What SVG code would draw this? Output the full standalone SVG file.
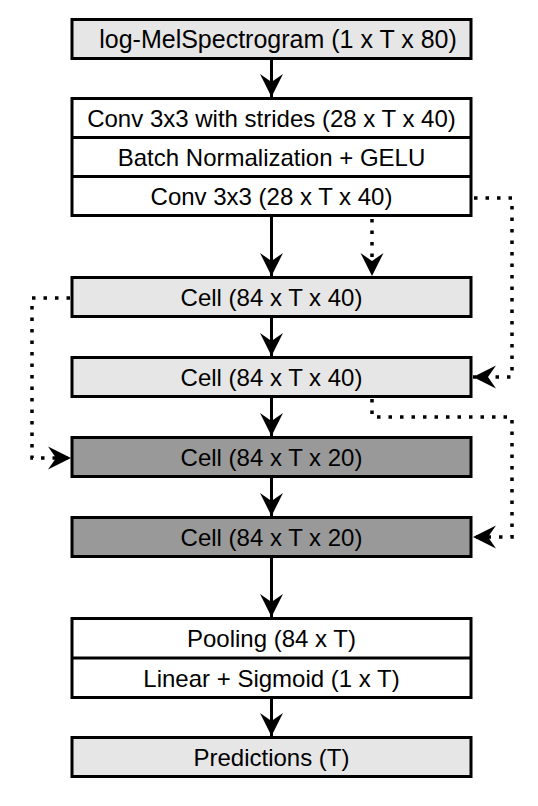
<svg xmlns="http://www.w3.org/2000/svg" width="538" height="806" viewBox="0 0 538 806">
<style>
  .box{stroke:#000;stroke-width:3}
  .w{fill:#fff}
  .lg{fill:#e6e6e6}
  .dg{fill:#999999}
  .div{stroke:#000;stroke-width:3}
  text{font-family:"Liberation Sans",Arial,Helvetica,sans-serif;font-size:24px;fill:#000;text-anchor:middle}
  .big{font-size:25px}
  .solid{fill:none;stroke:#000;stroke-width:3}
  .dot{fill:none;stroke:#000;stroke-width:3.5;stroke-dasharray:3.5 8}
</style>
<defs>
  <marker id="ah" markerUnits="userSpaceOnUse" markerWidth="26" markerHeight="26" viewBox="-24 -13 26 26" refX="0" refY="0" orient="auto" overflow="visible">
    <path d="M0,0 L-23,-11.5 L-15,0 L-23,11.5 Z" fill="#000"/>
  </marker>
</defs>
<g id="input">
  <rect class="box lg" x="72" y="19.5" width="399" height="39"/>
  <text class="big" x="278" y="48">log-MelSpectrogram (1 x T x 80)</text>
</g>
<g id="stem">
  <rect class="box w" x="72" y="98.5" width="399" height="117"/>
  <line class="div" x1="72" y1="137.5" x2="471" y2="137.5"/>
  <line class="div" x1="72" y1="176.5" x2="471" y2="176.5"/>
  <text x="271.5" y="127">Conv 3x3 with strides (28 x T x 40)</text>
  <text x="271.5" y="166">Batch Normalization + GELU</text>
  <text x="271.5" y="205">Conv 3x3 (28 x T x 40)</text>
</g>
<g id="cell1">
  <rect class="box lg" x="72" y="277.5" width="399" height="39"/>
  <text x="271.5" y="306">Cell (84 x T x 40)</text>
</g>
<g id="cell2">
  <rect class="box lg" x="72" y="357.5" width="399" height="39"/>
  <text x="271.5" y="386">Cell (84 x T x 40)</text>
</g>
<g id="cell3">
  <rect class="box dg" x="72" y="437.5" width="399" height="39"/>
  <text x="271.5" y="466">Cell (84 x T x 20)</text>
</g>
<g id="cell4">
  <rect class="box dg" x="72" y="517.5" width="399" height="39"/>
  <text x="271.5" y="546">Cell (84 x T x 20)</text>
</g>
<g id="head">
  <rect class="box w" x="72" y="618.5" width="399" height="79"/>
  <line class="div" x1="72" y1="658" x2="471" y2="658"/>
  <text x="271.5" y="647">Pooling (84 x T)</text>
  <text x="271.5" y="687">Linear + Sigmoid (1 x T)</text>
</g>
<g id="output">
  <rect class="box lg" x="72" y="737.5" width="399" height="39"/>
  <text x="271.5" y="766">Predictions (T)</text>
</g>
<g id="connectors">
  <line class="solid" x1="271.5" y1="60" x2="271.5" y2="97" marker-end="url(#ah)"/>
  <line class="solid" x1="271.5" y1="217" x2="271.5" y2="276" marker-end="url(#ah)"/>
  <line class="solid" x1="271.5" y1="318" x2="271.5" y2="356" marker-end="url(#ah)"/>
  <line class="solid" x1="271.5" y1="398" x2="271.5" y2="436" marker-end="url(#ah)"/>
  <line class="solid" x1="271.5" y1="478" x2="271.5" y2="516" marker-end="url(#ah)"/>
  <line class="solid" x1="271.5" y1="558" x2="271.5" y2="617" marker-end="url(#ah)"/>
  <line class="solid" x1="271.5" y1="699" x2="271.5" y2="736" marker-end="url(#ah)"/>
  <path class="dot" d="M372,219 L372,276" marker-end="url(#ah)"/>
  <path class="dot" d="M474,198 L512,198 L512,377 L473,377" marker-end="url(#ah)"/>
  <path class="dot" d="M70,298 L32,298 L32,458 L71,458" marker-end="url(#ah)"/>
  <path class="dot" d="M372,399 L372,417 L512,417 L512,537 L473,537" marker-end="url(#ah)"/>
</g>
</svg>
